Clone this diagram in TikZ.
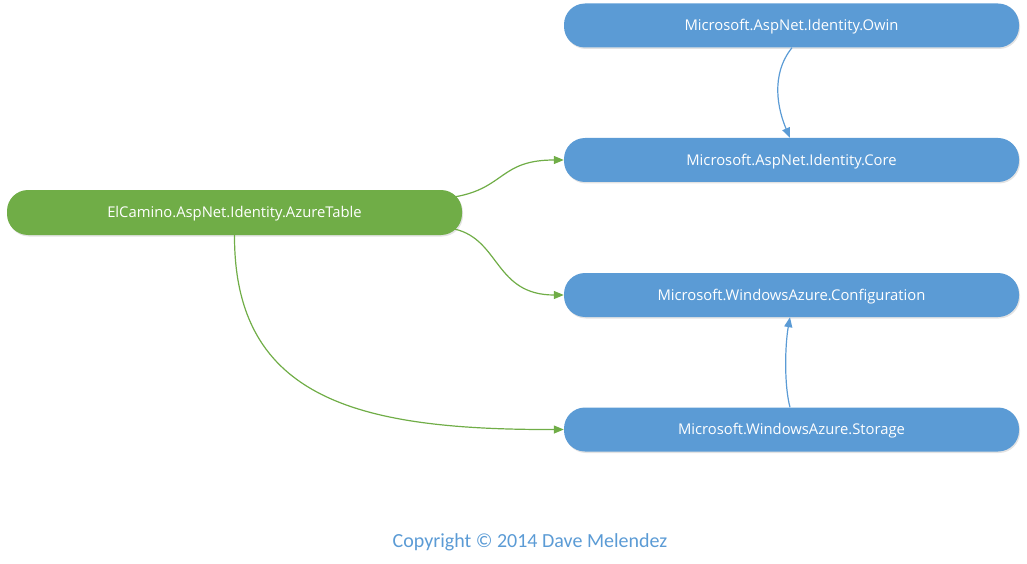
\documentclass[tikz,border=0pt]{standalone}
\usepackage{fontspec}
\setmainfont{Open Sans}
\newfontfamily\copyfont{Carlito}
\usetikzlibrary{arrows.meta,shadows,calc}
\definecolor{pkgblue}{HTML}{5B9BD5}
\definecolor{pkggreen}{HTML}{70AD47}
\tikzset{
  pkg/.style={draw=none, rounded corners=21pt, minimum width=455pt, minimum height=44pt,
    text=white, font=\fontsize{14.8}{17}\selectfont, text height=13pt, text depth=2.5pt,
    drop shadow={opacity=0.22, shadow xshift=1pt, shadow yshift=-1.5pt}},
  bluepkg/.style={pkg, fill=pkgblue},
  greenpkg/.style={pkg, fill=pkggreen, minimum height=45pt},
  dep/.style={line width=1.2pt, -{Triangle[length=10pt,width=8pt]}},
  greendep/.style={dep, draw=pkggreen},
  bluedep/.style={dep, draw=pkgblue},
}
\begin{document}
\begin{tikzpicture}[x=1pt,y=-1pt]
\useasboundingbox (0,0) rectangle (1027,564);
\node[greenpkg] (g) at (234.5,212.5) {ElCamino.AspNet.Identity.AzureTable};
\node[bluepkg] (owin) at (791.5,25.5) {Microsoft.AspNet.Identity.Owin};
\node[bluepkg] (core) at (791.5,160) {Microsoft.AspNet.Identity.Core};
\node[bluepkg] (conf) at (791.5,295) {Microsoft.WindowsAzure.Configuration};
\node[bluepkg] (stor) at (791.5,429.5) {Microsoft.WindowsAzure.Storage};
\node[text=pkgblue, font=\copyfont\fontsize{20}{22}\selectfont] (copy) at (530,542.5) {Copyright © 2014 Dave Melendez};
\draw[bluedep] ([xshift=0.5pt]owin.south) .. controls (770,75) and (778,110) .. ([xshift=-1.5pt]core.north);
\draw[greendep] ([xshift=-7pt,yshift=-7pt]g.north east) .. controls (505,188) and (500,160) .. (core.west);
\draw[greendep] ([xshift=-7pt,yshift=6pt]g.south east) .. controls (500,240) and (495,295) .. (conf.west);
\draw[greendep] (g.south) .. controls (234,400) and (360,430) .. (stor.west);
\draw[bluedep] ([xshift=-1.5pt]stor.north) .. controls (784,385) and (785,345) .. ([xshift=-1.5pt]conf.south);
\end{tikzpicture}
\end{document}
